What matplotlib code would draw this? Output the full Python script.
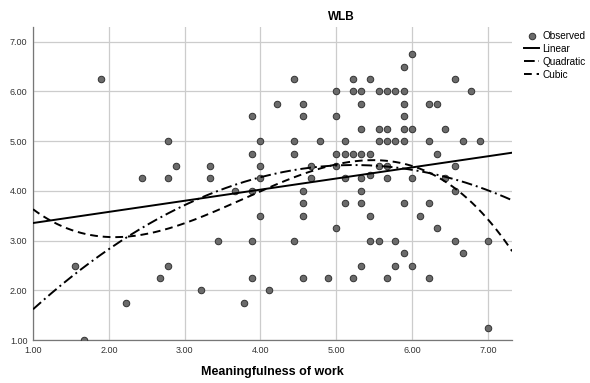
import matplotlib
matplotlib.use("Agg")
import matplotlib.pyplot as plt
import numpy as np

plt.rcParams["font.family"] = ["Liberation Sans", "DejaVu Sans"]

# observed points (x in steps of 1/9, y in steps of 0.25)
meaning = [
    1.56, 1.67, 1.89, 2.22, 2.44, 2.67, 2.78, 2.78, 2.78, 2.89,
    3.22, 3.33, 3.33, 3.44, 3.67, 3.78,
    3.89, 3.89, 3.89, 3.89, 3.89, 4.00, 4.00, 4.00, 4.00, 4.11, 4.22,
    4.44, 4.44, 4.44, 4.44, 4.56, 4.56, 4.56, 4.56, 4.56, 4.56,
    4.67, 4.67, 4.78, 4.89, 5.00, 5.00, 5.00, 5.00, 5.00,
    5.11, 5.11, 5.11, 5.11, 5.22, 5.22, 5.22, 5.22,
    5.33, 5.33, 5.33, 5.33, 5.33, 5.33, 5.33, 5.33,
    5.44, 5.44, 5.44, 5.44, 5.44, 5.56, 5.56, 5.56, 5.56, 5.56,
    5.67, 5.67, 5.67, 5.67, 5.67, 5.67, 5.78, 5.78, 5.78, 5.78,
    5.89, 5.89, 5.89, 5.89, 5.89, 5.89, 5.89, 5.89,
    6.00, 6.00, 6.00, 6.00, 6.11, 6.22, 6.22, 6.22, 6.22,
    6.33, 6.33, 6.33, 6.44, 6.44, 6.56, 6.56, 6.56, 6.56,
    6.67, 6.67, 6.78, 6.89, 7.00, 7.00,
]
wlb = [
    2.50, 1.00, 6.25, 1.75, 4.25, 2.25, 5.00, 4.25, 2.50, 4.50,
    2.00, 4.50, 4.25, 3.00, 4.00, 1.75,
    5.50, 4.75, 4.00, 3.00, 2.25, 5.00, 4.50, 4.25, 3.50, 2.00, 5.75,
    6.25, 5.00, 4.75, 3.00, 5.75, 5.50, 4.00, 3.75, 3.50, 2.25,
    4.50, 4.25, 5.00, 2.25, 6.00, 5.50, 4.75, 4.50, 3.25,
    5.00, 4.75, 4.25, 3.75, 6.25, 6.00, 4.75, 2.25,
    6.00, 5.75, 5.25, 4.75, 4.25, 4.00, 3.75, 2.50,
    6.25, 4.75, 4.33, 3.50, 3.00, 6.00, 5.25, 5.00, 4.50, 3.00,
    6.00, 5.25, 5.00, 4.50, 4.25, 2.25, 6.00, 5.00, 3.00, 2.50,
    6.50, 6.00, 5.75, 5.50, 5.25, 5.00, 3.75, 2.75,
    6.75, 5.25, 4.25, 2.50, 3.50, 5.75, 5.00, 3.75, 2.25,
    5.75, 4.75, 3.25, 5.25, 4.25, 6.25, 4.50, 4.00, 3.00,
    5.00, 2.75, 6.00, 5.00, 3.00, 1.25,
]
ticks = [1, 2, 3, 4, 5, 6, 7]

# fitted curves as drawn in the chart (x, y);
# many observations sit on top of each other, so the fits cannot be
# recomputed from the visible points alone
linear_x = [1.00, 2.00, 4.00, 6.00, 7.32]
linear_y = [3.36, 3.57, 4.03, 4.47, 4.77]
quad_x = [1.00, 2.00, 3.00, 4.00, 5.00, 6.30, 7.00, 7.29]
quad_y = [1.60, 2.86, 3.72, 4.26, 4.51, 4.32, 4.03, 3.83]
cubic_x = [1.00, 2.10, 2.81, 4.00, 5.00, 6.00, 6.55, 7.00, 7.29]
cubic_y = [3.63, 3.07, 3.27, 3.95, 4.59, 4.46, 4.09, 3.42, 2.86]

fits = [
    ("Linear", 1, linear_x, linear_y, "-"),
    ("Quadratic", 2, quad_x, quad_y, (0, (5.5, 2, 1, 2))),
    ("Cubic", 3, cubic_x, cubic_y, (0, (4, 2.5))),
]

fig = plt.figure(figsize=(5.9, 3.83), dpi=100)
ax = fig.add_axes([0.056, 0.112, 0.812, 0.818])

ax.scatter(meaning, wlb, s=22, color="#6b6b6b", edgecolor="#333333",
           linewidth=0.7, zorder=3, label="Observed")
xs = np.linspace(1.0, 7.32, 300)
for name, deg, fx, fy, style in fits:
    coef = np.polyfit(fx, fy, deg)
    ax.plot(xs, np.polyval(coef, xs), color="black", lw=1.4,
            linestyle=style, zorder=4, label=name)

ax.set_xlim(1.0, 7.32)
ax.set_ylim(1.0, 7.3)
ax.set_xticks(ticks)
ax.set_yticks(ticks)
ax.set_xticklabels([f"{t:.2f}" for t in ticks])
ax.set_yticklabels([f"{t:.2f}" for t in ticks])
ax.tick_params(length=0, labelsize=6.5, labelcolor="#333333", pad=4)
ax.grid(color="#cccccc", lw=0.9)
ax.set_axisbelow(True)
for side in ("top", "right"):
    ax.spines[side].set_visible(False)
for side in ("left", "bottom"):
    ax.spines[side].set_color("#777777")
    ax.spines[side].set_linewidth(0.9)

ax.set_xlabel("Meaningfulness of work", fontsize=9, fontweight="bold",
              labelpad=8)
fig.text(0.578, 0.956, "WLB", ha="center", va="center",
         fontsize=8.5, fontweight="bold")

fig.legend(loc="upper left", bbox_to_anchor=(0.882, 0.93), frameon=False,
           fontsize=7.2, handlelength=1.5, handletextpad=0.3,
           labelspacing=0.3, borderaxespad=0)

fig.savefig("out.png", dpi=100)
